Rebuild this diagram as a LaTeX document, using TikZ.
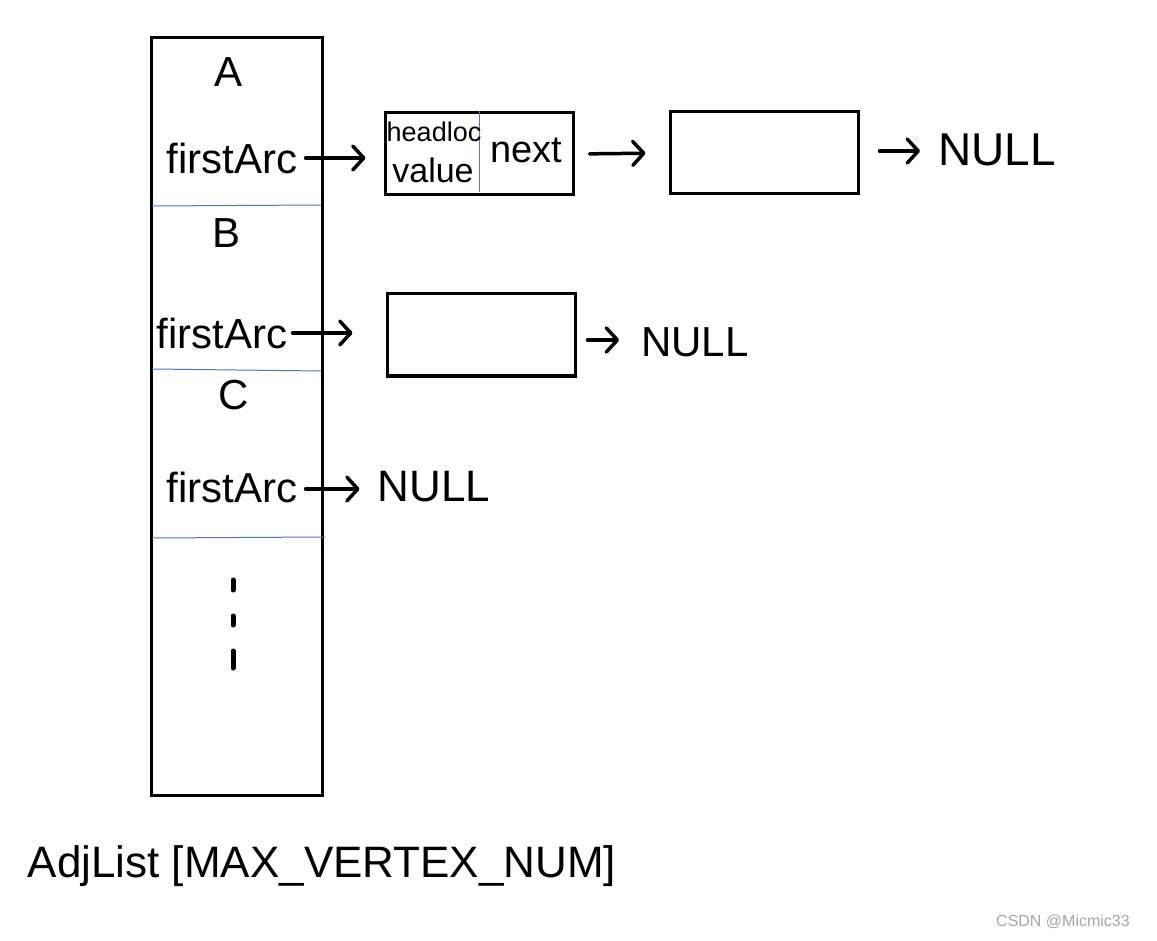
\documentclass[tikz,border=0pt]{standalone}
\usepackage{fontspec}
\setmainfont{Liberation Sans}
\usetikzlibrary{arrows.meta}
\definecolor{sepblue}{RGB}{70,120,215}
\newcommand{\hw}[1]{\fontsize{#1}{#1}\selectfont}

\begin{document}
\begin{tikzpicture}[x=1pt,y=-1pt,
    ptr/.style={line width=3.5pt,line cap=round,-{Straight Barb[length=11pt,width=24pt,line width=3.5pt,round]}},
    arcbox/.style={draw,line width=3pt,minimum width=188pt,minimum height=82pt,inner sep=0pt},
    lbl/.style={inner sep=0pt,font=\hw{42pt}},
    sep/.style={draw=sepblue,line width=1pt}]
    \useasboundingbox (0,0) rectangle (1157,941);

    % vertex array
    \draw[line width=3pt] (151,38) rectangle (322,795);
    \draw[sep] (152,206) -- (321,205);
    \draw[sep] (152,369) -- (321,371);
    \draw[sep] (152,538) -- (325,537);

    \node[lbl] (vA) at (229,72) {A};
    \node[lbl] (vB) at (227,233) {B};
    \node[lbl] (vC) at (234,395) {C};
    \node[lbl] (faA) at (232,158) {firstArc};
    \node[lbl] (faB) at (222,333) {firstArc};
    \node[lbl] (faC) at (232,487) {firstArc};

    \draw[line width=5pt,line cap=round] (233,580) -- (233,590);
    \draw[line width=5pt,line cap=round] (233,616) -- (233,625);
    \draw[line width=5pt,line cap=round] (233,651) -- (233,668);

    % arc nodes
    \node[arcbox] (arcA1) at (479,154) {};
    \node[arcbox] (arcA2) at (764,153) {};
    \node[arcbox] (arcB1) at (481,335) {};
    \draw[sep] (arcA1.north) -- ([yshift=4pt]arcA1.south);
    \node[inner sep=0pt,font=\hw{27pt}] (hl) at (434,132) {headloc};
    \node[inner sep=0pt,font=\hw{34pt}] (val) at (433,170) {value};
    \node[inner sep=0pt,font=\hw{38pt}] (nxt) at (526,150) {next};

    \node[lbl,font=\hw{46pt}] (nullA) at (997,150) {NULL};
    \node[lbl,font=\hw{42pt}] (nullB) at (695,342) {NULL};
    \node[lbl,font=\hw{44pt}] (nullC) at (434,487) {NULL};

    \draw[ptr,shorten <=8pt,shorten >=18pt] (faA.east) -- (faA.east -| arcA1.west);
    \draw[ptr,shorten <=15pt,shorten >=23pt] (arcA1.east) -- (arcA2.west);
    \draw[ptr,shorten <=20pt,shorten >=18pt] ([yshift=2pt]arcA2.east) -- ([yshift=2pt]arcA2.east -| nullA.west);
    \draw[ptr,shorten <=5pt,shorten >=33pt] (faB.east) -- (faB.east -| arcB1.west);
    \draw[ptr,shorten <=11pt,shorten >=22pt] ([yshift=-5pt]arcB1.east) -- ([yshift=-5pt]arcB1.east -| nullB.west);
    \draw[ptr,shorten <=8pt,shorten >=18pt] ([yshift=-2pt]faC.east) -- ([yshift=-2pt]faC.east -| nullC.west);

    \node[inner sep=0pt,font=\hw{44pt}] (title) at (322,866) {AdjList [MAX\_VERTEX\_NUM]};
    \node[inner sep=0pt,font=\hw{16pt},text=gray!70] (mark) at (1063,922) {CSDN @Micmic33};
\end{tikzpicture}
\end{document}
